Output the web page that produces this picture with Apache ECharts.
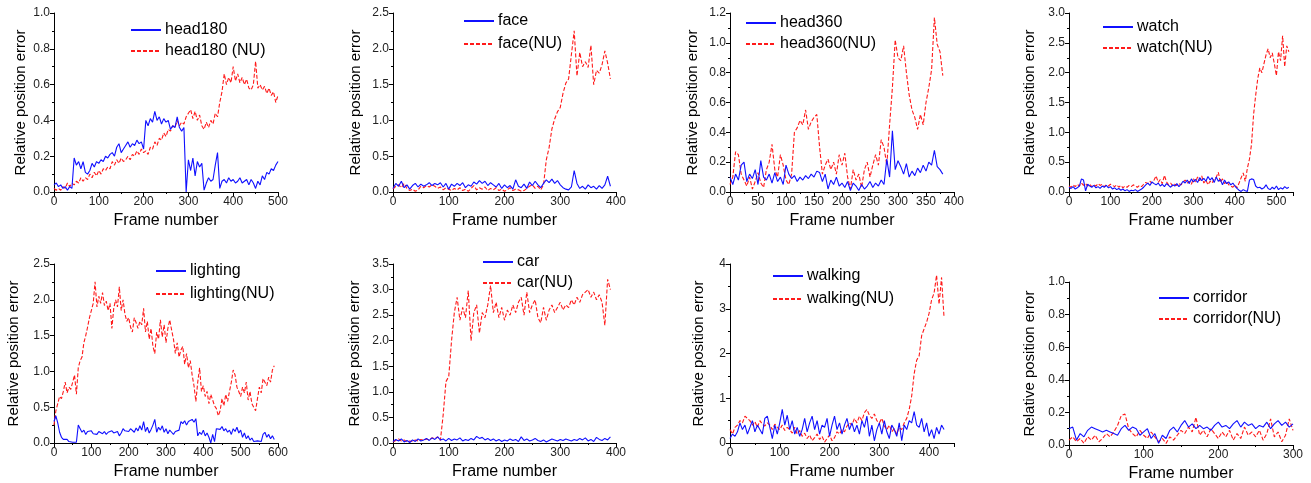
<!DOCTYPE html>
<html>
<head>
<meta charset="utf-8">
<script src="https://cdn.jsdelivr.net/npm/echarts@6/dist/echarts.min.js"></script>
<style>
  html, body { margin: 0; padding: 0; background: #fff; }
  #chart { width: 1311px; height: 483px; }
</style>
</head>
<body>
<div id="chart"></div>
<script>
// every series is sampled once every 5 frames, starting at frame 0
const frameStep = 5

const head180 = [0.04,0.05,0.03,0.04,0.02,0.03,0.01,0.03,0.02,0.19,0.15,0.17,0.13,0.17,0.11,0.10,0.12,0.16,0.14,0.17,
  0.16,0.18,0.17,0.20,0.19,0.21,0.22,0.20,0.25,0.27,0.22,0.24,0.26,0.28,0.25,0.27,0.26,0.29,0.27,0.28,
  0.24,0.40,0.37,0.41,0.39,0.45,0.40,0.42,0.38,0.41,0.39,0.40,0.35,0.37,0.36,0.42,0.36,0.34,0.36,0.00,
  0.18,0.12,0.19,0.09,0.17,0.14,0.16,0.01,0.05,0.08,0.06,0.07,0.15,0.22,0.02,0.06,0.07,0.05,0.08,0.06,
  0.07,0.05,0.06,0.08,0.05,0.06,0.07,0.04,0.07,0.05,0.02,0.06,0.04,0.09,0.07,0.11,0.10,0.13,0.12,0.15,0.17]
const head180NU = [0.02,0.01,0.02,0.01,0.03,0.02,0.05,0.03,0.05,0.04,0.06,0.05,0.08,0.06,0.08,0.07,0.10,0.08,0.11,0.09,
  0.12,0.10,0.13,0.12,0.14,0.13,0.17,0.15,0.18,0.16,0.19,0.17,0.18,0.20,0.18,0.21,0.20,0.23,0.21,0.24,
  0.22,0.23,0.21,0.25,0.24,0.28,0.26,0.30,0.29,0.33,0.31,0.35,0.34,0.37,0.36,0.40,0.37,0.39,0.38,0.42,
  0.44,0.46,0.41,0.45,0.40,0.43,0.37,0.35,0.39,0.36,0.40,0.38,0.44,0.42,0.50,0.56,0.66,0.60,0.64,0.61,
  0.70,0.62,0.66,0.61,0.64,0.60,0.63,0.58,0.57,0.60,0.73,0.58,0.60,0.57,0.59,0.55,0.58,0.54,0.56,0.50,0.54]

const face = [0.05,0.12,0.08,0.15,0.06,0.10,0.04,0.09,0.12,0.07,0.11,0.08,0.10,0.13,0.09,0.12,0.10,0.13,0.07,0.12,
  0.04,0.11,0.08,0.12,0.09,0.13,0.06,0.10,0.08,0.14,0.11,0.16,0.12,0.15,0.09,0.13,0.10,0.07,0.12,0.05,
  0.10,0.06,0.09,0.04,0.17,0.08,0.06,0.11,0.05,0.14,0.09,0.15,0.10,0.06,0.12,0.17,0.13,0.18,0.12,0.16,
  0.10,0.06,0.04,0.03,0.07,0.30,0.12,0.05,0.08,0.04,0.10,0.06,0.08,0.04,0.09,0.05,0.10,0.22,0.08]
const faceNU = [0.04,0.08,0.10,0.06,0.12,0.05,0.02,0.04,0.01,0.03,0.08,0.06,0.09,0.07,0.10,0.08,0.05,0.07,0.03,0.06,
  0.04,0.02,0.05,0.03,0.06,0.02,0.04,0.01,0.05,0.09,0.03,0.06,0.04,0.07,0.02,0.05,0.03,0.06,0.02,0.04,
  0.01,0.03,0.06,0.02,0.04,0.03,0.01,0.02,0.05,0.08,0.10,0.05,0.08,0.03,0.10,0.45,0.62,0.88,1.02,1.12,
  1.18,1.38,1.52,1.58,1.92,2.25,1.62,1.95,1.75,1.82,1.74,2.05,1.50,1.70,1.66,1.78,1.97,1.80,1.58]

const head360 = [0.10,0.05,0.12,0.08,0.18,0.20,0.07,0.12,0.09,0.15,0.05,0.21,0.10,0.08,0.12,0.06,0.13,0.07,0.10,0.05,
  0.18,0.12,0.09,0.11,0.07,0.10,0.08,0.11,0.09,0.12,0.10,0.14,0.13,0.07,0.12,0.02,0.08,0.05,0.10,0.04,
  0.06,0.03,0.07,0.01,0.06,0.04,0.01,0.05,0.02,0.04,0.07,0.03,0.06,0.04,0.08,0.05,0.22,0.10,0.41,0.15,
  0.21,0.17,0.12,0.19,0.10,0.14,0.11,0.16,0.13,0.18,0.14,0.20,0.18,0.28,0.17,0.15,0.12]
const head360NU = [0.05,0.10,0.27,0.25,0.12,0.08,0.04,0.10,0.02,0.07,0.13,0.06,0.03,0.15,0.20,0.32,0.15,0.10,0.25,0.18,
  0.08,0.05,0.12,0.40,0.43,0.48,0.45,0.55,0.42,0.47,0.50,0.52,0.30,0.12,0.18,0.22,0.15,0.20,0.12,0.25,
  0.18,0.26,0.10,0.02,0.15,0.08,0.12,0.03,0.15,0.20,0.10,0.18,0.25,0.18,0.35,0.30,0.18,0.45,0.70,1.02,
  0.90,0.88,0.98,0.80,0.65,0.55,0.50,0.42,0.52,0.45,0.60,0.70,0.82,1.17,0.99,0.94,0.78]

const watch = [0.08,0.06,0.09,0.05,0.07,0.10,0.22,0.20,0.02,0.13,0.10,0.08,0.11,0.07,0.09,0.06,0.10,0.08,0.11,0.07,
  0.09,0.05,0.07,0.04,0.06,0.03,0.05,0.02,0.04,0.01,0.03,0.02,0.04,0.01,0.03,0.05,0.08,0.12,0.15,0.11,
  0.17,0.14,0.12,0.15,0.10,0.13,0.09,0.14,0.11,0.08,0.12,0.10,0.14,0.09,0.13,0.18,0.15,0.20,0.14,0.22,
  0.17,0.21,0.16,0.24,0.19,0.23,0.18,0.26,0.20,0.24,0.16,0.25,0.18,0.21,0.12,0.20,0.14,0.17,0.12,0.15,
  0.10,0.06,0.03,0.01,0.04,0.02,0.01,0.20,0.22,0.21,0.10,0.07,0.08,0.05,0.07,0.12,0.06,0.04,0.08,0.05,
  0.10,0.04,0.07,0.05,0.09,0.06,0.08]
const watchNU = [0.10,0.08,0.12,0.09,0.13,0.10,0.15,0.11,0.14,0.10,0.13,0.09,0.12,0.10,0.14,0.11,0.13,0.09,0.12,0.10,
  0.13,0.11,0.09,0.12,0.08,0.11,0.07,0.10,0.08,0.11,0.09,0.12,0.10,0.08,0.11,0.09,0.13,0.16,0.14,0.18,
  0.15,0.20,0.27,0.16,0.21,0.14,0.28,0.17,0.12,0.15,0.10,0.13,0.11,0.14,0.12,0.16,0.20,0.15,0.18,0.13,
  0.22,0.17,0.25,0.19,0.27,0.15,0.20,0.12,0.18,0.15,0.22,0.25,0.33,0.16,0.22,0.14,0.18,0.12,0.10,0.08,
  0.12,0.07,0.15,0.24,0.32,0.18,0.40,0.55,0.80,1.30,1.62,1.90,2.08,2.00,2.15,2.30,2.40,2.25,2.33,2.15,
  1.95,2.35,2.20,2.62,2.10,2.45,2.35]

const lighting = [0.30,0.38,0.28,0.15,0.08,0.05,0.03,0.05,0.02,0.04,0.01,0.00,0.01,0.25,0.20,0.15,0.18,0.12,0.16,0.14,
  0.17,0.13,0.15,0.12,0.16,0.14,0.13,0.16,0.12,0.15,0.13,0.17,0.14,0.12,0.16,0.10,0.14,0.20,0.17,0.19,
  0.16,0.20,0.18,0.15,0.21,0.17,0.24,0.18,0.30,0.16,0.22,0.14,0.19,0.25,0.33,0.15,0.22,0.18,0.24,0.15,
  0.20,0.13,0.18,0.15,0.12,0.16,0.14,0.18,0.30,0.27,0.31,0.25,0.30,0.28,0.33,0.29,0.34,0.10,0.15,0.12,
  0.18,0.10,0.14,0.08,0.00,0.12,0.02,0.20,0.22,0.19,0.23,0.17,0.20,0.15,0.18,0.12,0.20,0.16,0.22,0.14,
  0.18,0.08,0.14,0.06,0.10,0.04,0.07,0.02,0.01,0.03,0.05,0.02,0.12,0.15,0.08,0.12,0.06,0.10,0.05]
const lightingNU = [0.25,0.45,0.55,0.65,0.62,0.72,0.85,0.70,0.78,0.75,0.85,0.95,0.68,1.05,1.15,1.20,1.40,1.50,1.62,1.75,
  1.85,1.95,2.25,1.90,2.05,1.95,2.10,1.92,1.98,1.85,1.95,1.60,1.88,2.00,1.90,2.18,1.85,2.00,1.80,1.70,
  1.75,1.62,1.55,1.75,1.68,1.60,1.70,1.65,1.88,1.55,1.70,1.45,1.60,1.35,1.25,1.55,1.45,1.72,1.48,1.65,
  1.40,1.60,1.72,1.58,1.45,1.25,1.40,1.20,1.30,1.35,1.10,1.25,1.05,1.15,0.95,0.80,0.58,0.85,1.05,0.72,
  0.80,0.65,0.72,0.55,0.68,0.60,0.52,0.48,0.38,0.45,0.62,0.52,0.68,0.58,0.72,0.85,1.02,0.95,0.78,0.72,
  0.65,0.78,0.70,0.85,0.60,0.72,0.55,0.50,0.45,0.62,0.78,0.70,0.90,0.85,0.80,0.92,0.85,1.02,1.08]

const car = [0.03,0.07,0.04,0.08,0.02,0.05,0.01,0.06,0.03,0.08,0.04,0.06,0.09,0.05,0.10,0.07,0.12,0.06,0.08,0.04,
  0.09,0.05,0.08,0.06,0.10,0.04,0.07,0.05,0.09,0.06,0.13,0.09,0.11,0.06,0.09,0.05,0.08,0.04,0.07,0.03,
  0.06,0.04,0.08,0.05,0.07,0.03,0.12,0.05,0.08,0.04,0.06,0.09,0.05,0.03,0.06,0.02,0.05,0.08,0.06,0.04,
  0.07,0.05,0.08,0.06,0.04,0.07,0.05,0.09,0.06,0.10,0.04,0.07,0.03,0.11,0.07,0.05,0.09,0.06,0.12]
const carNU = [0.02,0.05,0.08,0.04,0.06,0.02,0.04,0.03,0.06,0.04,0.07,0.05,0.08,0.06,0.10,0.08,0.12,0.05,0.55,1.20,
  1.30,2.00,2.55,2.85,2.40,2.65,2.45,2.98,2.00,2.55,2.70,2.15,2.55,2.45,2.70,3.08,2.55,2.75,2.45,2.65,
  2.40,2.60,2.50,2.70,2.55,2.75,2.85,2.50,2.95,2.55,2.70,2.80,2.45,2.35,2.65,2.40,2.60,2.70,2.55,2.65,
  2.75,2.60,2.70,2.65,2.80,2.70,2.85,2.75,2.90,2.95,3.00,2.85,2.95,2.80,2.90,2.75,2.30,3.20,3.00]

const walking = [0.10,0.20,0.15,0.25,0.45,0.30,0.40,0.20,0.35,0.50,0.25,0.40,0.30,0.20,0.55,0.60,0.35,0.10,0.40,0.20,
  0.45,0.75,0.40,0.62,0.30,0.50,0.20,0.35,0.15,0.30,0.55,0.25,0.45,0.60,0.30,0.50,0.20,0.40,0.35,0.55,
  0.15,0.40,0.60,0.30,0.45,0.20,0.40,0.55,0.30,0.45,0.25,0.40,0.20,0.50,0.35,0.60,0.15,0.40,0.05,0.30,
  0.45,0.20,0.50,0.25,0.10,0.40,0.30,0.15,0.45,0.05,0.40,0.30,0.50,0.45,0.70,0.40,0.35,0.55,0.25,0.45,
  0.15,0.30,0.10,0.35,0.20,0.40,0.30]
const walkingNU = [0.30,0.20,0.35,0.40,0.50,0.45,0.60,0.55,0.50,0.40,0.48,0.35,0.50,0.42,0.38,0.45,0.40,0.30,0.42,0.35,
  0.30,0.40,0.28,0.35,0.30,0.22,0.35,0.20,0.28,0.15,0.22,0.10,0.18,0.05,0.12,0.20,0.08,0.15,0.02,0.10,
  0.18,0.05,0.12,0.25,0.20,0.30,0.25,0.38,0.45,0.40,0.55,0.45,0.60,0.50,0.68,0.75,0.62,0.55,0.65,0.50,
  0.45,0.55,0.38,0.30,0.40,0.25,0.32,0.20,0.35,0.30,0.45,0.55,0.75,1.05,1.55,1.85,1.95,2.40,2.55,2.70,
  2.90,3.20,3.35,3.75,3.10,3.70,2.80]

const corridor = [0.10,0.11,0.03,0.07,0.05,0.09,0.11,0.10,0.09,0.08,0.09,0.08,0.07,0.06,0.10,0.12,0.09,0.11,0.10,0.06,
  0.08,0.10,0.04,0.07,0.01,0.06,0.04,0.09,0.11,0.08,0.12,0.15,0.11,0.13,0.10,0.12,0.10,0.11,0.09,0.12,
  0.14,0.11,0.12,0.10,0.13,0.15,0.11,0.14,0.12,0.13,0.10,0.12,0.11,0.14,0.10,0.13,0.15,0.12,0.14,0.11,0.13]
const corridorNU = [0.03,0.05,0.02,0.04,0.01,0.05,0.03,0.06,0.02,0.04,0.07,0.05,0.08,0.12,0.18,0.19,0.10,0.07,0.05,0.09,
  0.06,0.04,0.08,0.05,0.02,0.04,0.01,0.05,0.03,0.06,0.09,0.07,0.11,0.08,0.17,0.06,0.09,0.05,0.10,0.07,
  0.04,0.08,0.05,0.09,0.03,0.07,0.04,0.11,0.06,0.08,0.05,0.09,0.03,0.07,0.16,0.05,0.08,0.02,0.06,0.16,0.09]

// one entry per small plot: which arrays, legend names and axis ranges
const panels = [
  { names: ['head180', 'head180 (NU)'], blue: head180, red: head180NU, xMax: 500, xStep: 100, yMax: 1.0, yStep: 0.2 },
  { names: ['face', 'face(NU)'], blue: face, red: faceNU, xMax: 400, xStep: 100, yMax: 2.5, yStep: 0.5 },
  { names: ['head360', 'head360(NU)'], blue: head360, red: head360NU, xMax: 400, xStep: 50, yMax: 1.2, yStep: 0.2 },
  { names: ['watch', 'watch(NU)'], blue: watch, red: watchNU, xMax: 540, xStep: 100, yMax: 3.0, yStep: 0.5 },
  { names: ['lighting', 'lighting(NU)'], blue: lighting, red: lightingNU, xMax: 600, xStep: 100, yMax: 2.5, yStep: 0.5 },
  { names: ['car', 'car(NU)'], blue: car, red: carNU, xMax: 400, xStep: 100, yMax: 3.5, yStep: 0.5 },
  { names: ['walking', 'walking(NU)'], blue: walking, red: walkingNU, xMax: 450, xStep: 100, yMax: 4, yStep: 1 },
  { names: ['corridor', 'corridor(NU)'], blue: corridor, red: corridorNU, xMax: 300, xStep: 100, yMax: 1.0, yStep: 0.2 }
]

// pixel layout: plot box [left, top, width, height], legend [left, top, gap], y name gap
const layout = [
  { box: [54, 13, 224, 179], legend: [130, 22, 5], yGap: 26 },
  { box: [393, 13, 223, 179], legend: [463, 13, 7], yGap: 30 },
  { box: [730, 13, 224, 179], legend: [745, 15, 5], yGap: 30 },
  { box: [1069, 13, 224, 179], legend: [1102, 19, 5], yGap: 32 },
  { box: [54, 264, 224, 179], legend: [155, 263, 7], yGap: 33 },
  { box: [393, 264, 223, 179], legend: [482, 254, 5], yGap: 31 },
  { box: [730, 264, 224, 179], legend: [772, 268, 7], yGap: 24 },
  { box: [1069, 282, 224, 165], legend: [1158, 290, 5], yGap: 32 }
]

const fontName = 'Liberation Sans'
const toPoints = (values) => values.map((v, i) => [i * frameStep, v])

let grid = []
let xAxis = []
let yAxis = []
let legend = []
let series = []

panels.forEach((p, k) => {
  let l = layout[k]
  grid.push({ left: l.box[0], top: l.box[1], width: l.box[2], height: l.box[3] })
  xAxis.push({
    gridIndex: k,
    type: 'value',
    min: 0,
    max: p.xMax,
    interval: p.xStep,
    name: 'Frame number',
    nameLocation: 'middle',
    nameGap: 21,
    nameTextStyle: { fontFamily: fontName, fontSize: 16, color: '#000' },
    splitLine: { show: false },
    axisLine: { lineStyle: { color: '#000', width: 1 } },
    axisTick: { length: 4, lineStyle: { color: '#000' } },
    minorTick: { show: true, splitNumber: 2, length: 2, lineStyle: { color: '#000' } },
    axisLabel: { showMaxLabel: p.xMax % p.xStep === 0, margin: 4, fontFamily: fontName, fontSize: 12, color: '#222' }
  })
  yAxis.push({
    gridIndex: k,
    type: 'value',
    min: 0,
    max: p.yMax,
    interval: p.yStep,
    name: 'Relative position error',
    nameLocation: 'middle',
    nameGap: l.yGap,
    nameTextStyle: { fontFamily: fontName, fontSize: 15, color: '#000' },
    splitLine: { show: false },
    axisLine: { show: true, lineStyle: { color: '#000', width: 1 } },
    axisTick: { length: 4, lineStyle: { color: '#000' } },
    minorTick: { show: true, splitNumber: 2, length: 2, lineStyle: { color: '#000' } },
    axisLabel: {
      margin: 4, fontFamily: fontName, fontSize: 12, color: '#222',
      formatter: (v) => p.yStep >= 1 ? String(v) : v.toFixed(1)
    }
  })
  // legend shows only the line sample, the round marker is hidden
  legend.push({
    data: p.names,
    orient: 'vertical',
    left: l.legend[0],
    top: l.legend[1],
    itemGap: l.legend[2],
    itemWidth: 30,
    itemHeight: 15,
    padding: 0,
    itemStyle: { opacity: 0 },
    textStyle: { fontFamily: fontName, fontSize: 16, color: '#000', padding: [0, 0, 0, -1] }
  })
  series.push({
    name: p.names[0],
    type: 'line',
    xAxisIndex: k,
    yAxisIndex: k,
    data: toPoints(p.blue),
    symbol: 'none',
    z: 3,
    lineStyle: { color: '#1010ff', width: 1.1 },
    itemStyle: { color: '#1010ff' }
  })
  series.push({
    name: p.names[1],
    type: 'line',
    xAxisIndex: k,
    yAxisIndex: k,
    data: toPoints(p.red),
    symbol: 'none',
    z: 2,
    lineStyle: { color: '#ff1a1a', width: 1.1, type: [4, 2] },
    itemStyle: { color: '#ff1a1a' }
  })
})

const chart = echarts.init(document.getElementById('chart'), null, { renderer: 'canvas' })
chart.setOption({
  backgroundColor: '#fff',
  animation: false,
  grid: grid,
  xAxis: xAxis,
  yAxis: yAxis,
  legend: legend,
  series: series
})
</script>
</body>
</html>
